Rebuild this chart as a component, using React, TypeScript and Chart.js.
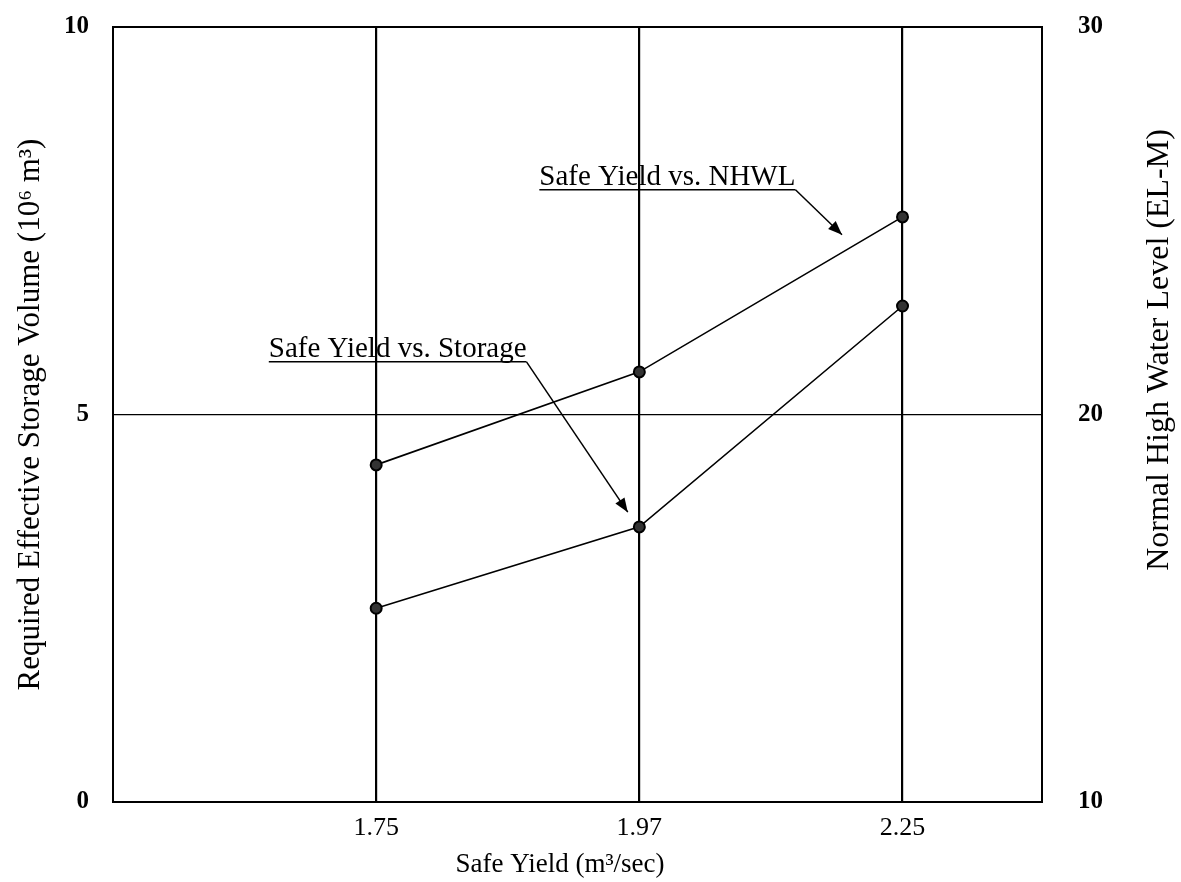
import React, { useEffect, useRef } from "react";
import { Chart, registerables } from "chart.js";

Chart.register(...registerables);

// ---- data ----
const categories = ["1.75", "1.97", "2.25"];
const storageValues = [2.5, 3.55, 6.4]; // 10^6 m^3 (left axis)
const nhwlValues = [18.7, 21.1, 25.1]; // EL-M (right axis)
const leftTicks = [0, 5, 10];
const rightTicks = [10, 20, 30];

const xTitle = "Safe Yield (m\u00B3/sec)";
const leftTitle = "Required Effective Storage Volume (10\u2076 m\u00B3)";
const rightTitle = "Normal High Water Level (EL-M)";

// annotation labels (anchored in data coordinates of x / left-y scales)
const noteTexts = ["Safe Yield vs. Storage", "Safe Yield vs. NHWL"];
const noteAnchorX = [0.592, 1.62];
const noteAnchorY = [5.68, 7.9];
const noteArrowX = [1.956, 2.77];
const noteArrowY = [3.74, 7.32];

const FONT = "'Liberation Serif', 'Times New Roman', serif";

const framePlugin = {
  id: "frame",
  afterDatasetsDraw(chart: any) {
    const { ctx, chartArea } = chart;
    ctx.save();
    ctx.strokeStyle = "#000";
    ctx.lineWidth = 2;
    ctx.strokeRect(chartArea.left, chartArea.top, chartArea.right - chartArea.left, chartArea.bottom - chartArea.top);
    ctx.restore();
  },
};

const notesPlugin = {
  id: "notes",
  afterDatasetsDraw(chart: any) {
    const { ctx, scales } = chart;
    const xs = scales.x;
    const ys = scales.y;
    ctx.save();
    ctx.fillStyle = "#000";
    ctx.strokeStyle = "#000";
    ctx.font = `29px ${FONT}`;
    ctx.textBaseline = "alphabetic";
    ctx.textAlign = "left";
    noteTexts.forEach((t, i) => {
      const px = xs.getPixelForValue(noteAnchorX[i]);
      const py = ys.getPixelForValue(noteAnchorY[i]);
      const w = ctx.measureText(t).width;
      ctx.fillText(t, px, py - 5);
      ctx.lineWidth = 1.5;
      ctx.beginPath();
      ctx.moveTo(px, py);
      ctx.lineTo(px + w, py);
      ctx.stroke();
      const sx = px + w;
      const sy = py;
      const ex = xs.getPixelForValue(noteArrowX[i]);
      const ey = ys.getPixelForValue(noteArrowY[i]);
      ctx.beginPath();
      ctx.moveTo(sx, sy);
      ctx.lineTo(ex, ey);
      ctx.stroke();
      const ang = Math.atan2(ey - sy, ex - sx);
      const L = 14;
      const W = 5.5;
      ctx.beginPath();
      ctx.moveTo(ex, ey);
      ctx.lineTo(ex - L * Math.cos(ang) + W * Math.sin(ang), ey - L * Math.sin(ang) - W * Math.cos(ang));
      ctx.lineTo(ex - L * Math.cos(ang) - W * Math.sin(ang), ey - L * Math.sin(ang) + W * Math.cos(ang));
      ctx.closePath();
      ctx.fill();
    });
    ctx.restore();
  },
};

const titlesPlugin = {
  id: "extraTitles",
  afterDraw(chart: any) {
    const { ctx } = chart;
    ctx.save();
    ctx.fillStyle = "#000";
    ctx.textAlign = "center";
    ctx.textBaseline = "middle";
    // bottom axis title
    ctx.font = `27px ${FONT}`;
    ctx.fillText(xTitle, 560, 865);
    // right axis title, reading bottom-to-top
    ctx.font = `32px ${FONT}`;
    ctx.translate(1160, 350);
    ctx.rotate(-Math.PI / 2);
    ctx.fillText(rightTitle, 0, 0);
    ctx.restore();
  },
};

export default function App() {
  const ref = useRef<HTMLCanvasElement | null>(null);
  useEffect(() => {
    if (!ref.current) return;
    const ds = (label: string, values: number[], axis: string) => ({
      label,
      data: values.map((v, i) => ({ x: i + 1, y: v })),
      yAxisID: axis,
      borderColor: "#000",
      backgroundColor: "#111",
      borderWidth: 1.6,
      pointRadius: 5.5,
      pointBackgroundColor: "#333",
      pointBorderColor: "#000",
      pointBorderWidth: 2,
      tension: 0,
    });
    const chart = new Chart(ref.current, {
      type: "line",
      data: {
        datasets: [
          ds("Safe Yield vs. Storage", storageValues, "y"),
          ds("Safe Yield vs. NHWL", nhwlValues, "y1"),
        ],
      },
      options: {
        responsive: false,
        animation: false,
        layout: { padding: { top: 27, left: 0, right: 0, bottom: 0 } },
        plugins: { legend: { display: false }, tooltip: { enabled: false } },
        scales: {
          x: {
            type: "linear",
            min: 0,
            max: 3.53,
            afterBuildTicks: (s: any) => {
              s.ticks = categories.map((_, i) => ({ value: i + 1 }));
            },
            afterFit: (s: any) => {
              s.height = 80;
              s.paddingLeft = 0;
              s.paddingRight = 0;
            },
            ticks: {
              callback: (v: any) => categories[Number(v) - 1] ?? "",
              color: "#000",
              font: { family: FONT, size: 26 },
              padding: 11,
              autoSkip: false,
              maxRotation: 0,
            },
            grid: { color: "#000", lineWidth: 2.2, drawTicks: false },
            border: { display: false },
            title: { display: false, text: xTitle },
          },
          y: {
            type: "linear",
            position: "left",
            min: 0,
            max: 10,
            afterBuildTicks: (s: any) => {
              s.ticks = leftTicks.map((v) => ({ value: v }));
            },
            afterFit: (s: any) => {
              s.width = 113;
              s.paddingTop = 0;
              s.paddingBottom = 0;
            },
            ticks: {
              color: "#000",
              font: { family: FONT, size: 25, weight: "bold" },
              padding: 24,
            },
            grid: {
              color: (c: any) => (c.tick && c.tick.value === 5 ? "#000" : "rgba(0,0,0,0)"),
              lineWidth: 1.2,
              drawTicks: false,
            },
            border: { display: false },
            title: {
              display: true,
              text: leftTitle,
              color: "#000",
              font: { family: FONT, size: 31 },
              padding: { top: 12, bottom: 0 },
            },
          },
          y1: {
            type: "linear",
            position: "right",
            min: 10,
            max: 30,
            afterBuildTicks: (s: any) => {
              s.ticks = rightTicks.map((v) => ({ value: v }));
            },
            afterFit: (s: any) => {
              s.width = 139;
              s.paddingTop = 0;
              s.paddingBottom = 0;
            },
            ticks: {
              color: "#000",
              font: { family: FONT, size: 25, weight: "bold" },
              padding: 36,
            },
            grid: { display: false, drawTicks: false },
            border: { display: false },
          },
        },
      },
      plugins: [framePlugin, notesPlugin, titlesPlugin],
    });
    return () => chart.destroy();
  }, []);
  return (
    <div style={{ position: "fixed", left: 0, top: 0, width: 1181, height: 882, background: "#fff" }}>
      <canvas ref={ref} width={1181} height={882} style={{ width: 1181, height: 882, display: "block" }} />
    </div>
  );
}
